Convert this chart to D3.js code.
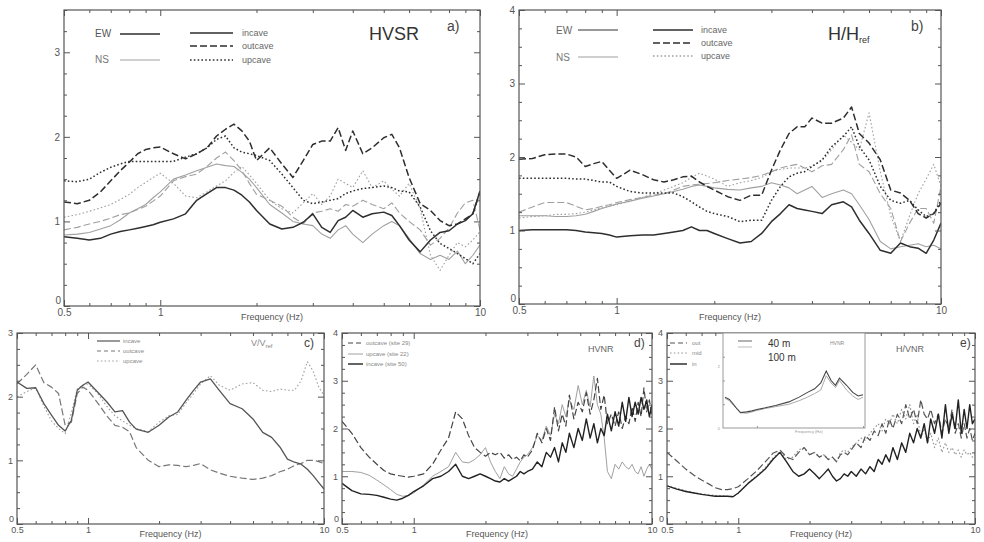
<!DOCTYPE html>
<html><head><meta charset="utf-8">
<script src="https://cdn.jsdelivr.net/npm/d3@7"></script>
<style>body{margin:0;background:#fff}svg{display:block}text{font-family:"Liberation Sans",Arial,sans-serif}</style>
</head><body><svg id="chart" width="984" height="542"></svg>
<script>
// ---------- DATA ----------
const freqAB = [0.5,0.55,0.6,0.65,0.7,0.75,0.8,0.85,0.9,0.95,1.0,1.1,1.2,1.3,1.4,1.5,1.6,1.7,1.8,1.9,2.0,2.2,2.4,2.6,2.8,3.0,3.2,3.4,3.6,3.8,4.0,4.3,4.6,5.0,5.3,5.6,6.0,6.5,7.0,7.5,8.0,8.5,9.0,9.5,10];
// panel a) HVSR
const aEWin  = [0.82,0.80,0.78,0.80,0.85,0.88,0.90,0.92,0.94,0.96,0.99,1.03,1.09,1.25,1.33,1.40,1.40,1.37,1.31,1.23,1.13,0.97,0.91,0.93,0.99,1.09,0.93,0.87,1.01,1.05,1.13,1.05,1.09,1.11,1.07,0.95,0.78,0.64,0.78,0.87,0.89,0.97,1.01,1.09,1.36];
const aEWout = [1.23,1.21,1.25,1.35,1.48,1.60,1.70,1.80,1.85,1.87,1.88,1.80,1.74,1.80,1.87,2.01,2.09,2.15,2.07,1.95,1.72,1.87,1.68,1.52,1.72,1.91,1.95,1.95,2.11,1.84,2.07,1.80,1.87,1.99,2.03,1.87,1.52,1.21,1.13,1.01,0.95,0.97,1.03,1.09,1.35];
const aEWup  = [1.48,1.47,1.50,1.58,1.64,1.68,1.71,1.71,1.71,1.71,1.71,1.71,1.76,1.80,1.87,1.97,2.01,1.87,1.82,1.80,1.78,1.72,1.56,1.40,1.25,1.21,1.23,1.25,1.27,1.33,1.36,1.39,1.40,1.42,1.40,1.36,1.35,1.17,0.89,0.74,0.68,0.62,0.56,0.50,0.62];
const aNSin  = [0.84,0.85,0.87,0.91,0.95,1.02,1.10,1.15,1.20,1.28,1.35,1.50,1.55,1.60,1.64,1.68,1.66,1.65,1.58,1.50,1.40,1.20,1.10,1.00,0.97,0.95,0.85,0.80,0.90,0.95,0.85,0.75,0.85,0.95,1.00,0.95,0.80,0.62,0.55,0.60,0.55,0.65,0.50,0.60,0.72];
const aNSout = [0.90,0.93,0.97,1.00,1.04,1.08,1.10,1.14,1.18,1.24,1.30,1.48,1.53,1.56,1.65,1.75,1.82,1.72,1.60,1.45,1.32,1.25,1.18,1.05,0.97,1.10,1.12,1.15,1.12,1.20,1.18,1.25,1.20,1.15,1.22,1.10,1.00,0.90,0.72,0.80,0.92,1.10,1.22,1.25,0.90];
const aNSup  = [1.05,1.08,1.12,1.16,1.20,1.26,1.32,1.40,1.46,1.52,1.57,1.45,1.30,1.28,1.35,1.42,1.48,1.58,1.65,1.55,1.45,1.25,1.15,1.10,1.22,1.33,1.20,1.30,1.50,1.45,1.40,1.60,1.40,1.48,1.38,1.30,1.45,1.15,0.60,0.42,0.60,0.75,0.70,0.78,0.88];
// panel b) H/Href
const bEWin  = [1.00,1.01,1.01,1.01,1.01,1.00,0.98,0.97,0.96,0.94,0.91,0.93,0.94,0.94,0.96,0.98,1.00,1.05,1.00,1.00,0.96,0.89,0.83,0.85,0.96,1.12,1.23,1.35,1.30,1.28,1.26,1.23,1.35,1.39,1.32,1.14,0.96,0.73,0.69,0.83,0.78,0.76,0.69,0.87,1.10];
const bEWout = [1.97,1.98,2.03,2.04,2.04,2.00,1.87,1.91,1.94,1.82,1.71,1.82,1.76,1.69,1.66,1.69,1.73,1.74,1.66,1.60,1.55,1.46,1.41,1.48,1.48,1.82,2.10,2.32,2.41,2.41,2.53,2.46,2.46,2.53,2.68,2.32,2.19,1.96,1.55,1.51,1.41,1.23,1.17,1.23,1.37];
const bEWup  = [1.71,1.71,1.71,1.71,1.71,1.70,1.70,1.68,1.66,1.66,1.60,1.53,1.51,1.51,1.51,1.51,1.46,1.39,1.32,1.26,1.23,1.19,1.12,1.14,1.14,1.41,1.60,1.73,1.78,1.80,1.87,1.96,2.14,2.28,2.41,2.14,1.96,1.60,1.41,1.37,1.41,1.28,1.19,1.23,1.41];
const bNSin  = [1.20,1.20,1.20,1.19,1.19,1.20,1.22,1.26,1.30,1.33,1.36,1.40,1.44,1.47,1.50,1.53,1.56,1.60,1.62,1.60,1.58,1.56,1.55,1.58,1.60,1.65,1.62,1.58,1.50,1.55,1.60,1.45,1.50,1.55,1.50,1.35,1.15,0.85,0.75,0.78,0.80,0.82,0.78,0.80,0.75];
const bNSout = [1.25,1.32,1.38,1.38,1.38,1.33,1.28,1.30,1.33,1.35,1.38,1.42,1.45,1.48,1.50,1.55,1.60,1.62,1.63,1.64,1.65,1.68,1.70,1.72,1.75,1.80,1.85,1.88,1.90,1.85,1.80,1.88,1.90,2.10,2.30,1.90,1.80,1.50,1.30,0.85,1.10,1.30,1.30,1.10,1.60];
const bNSup  = [1.17,1.19,1.20,1.22,1.22,1.23,1.25,1.28,1.31,1.33,1.35,1.40,1.45,1.50,1.55,1.60,1.65,1.72,1.78,1.74,1.70,1.60,1.65,1.68,1.72,1.80,1.83,1.85,1.85,1.85,1.88,1.95,2.10,2.30,2.20,2.10,2.60,1.80,1.20,0.85,1.20,1.50,1.70,1.90,1.60];
// panel c) V/Vref
const freqC = [0.5,0.55,0.6,0.65,0.7,0.75,0.8,0.85,0.9,0.95,1.0,1.1,1.2,1.3,1.4,1.5,1.6,1.8,2.0,2.2,2.4,2.6,2.8,3.0,3.3,3.6,4.0,4.5,5.0,5.5,6.0,6.5,7.0,7.5,8.0,8.5,9.0,9.5,10];
const cIn  = [2.23,2.13,2.14,1.89,1.71,1.55,1.46,1.63,2.10,2.18,2.23,2.07,1.92,1.76,1.78,1.60,1.49,1.44,1.55,1.68,1.76,1.94,2.10,2.23,2.28,2.10,1.89,1.81,1.65,1.44,1.36,1.21,1.02,0.97,0.94,0.86,0.76,0.65,0.55];
const cOut = [2.20,2.35,2.50,2.22,2.15,2.05,1.55,1.60,2.05,2.15,2.10,1.90,1.70,1.55,1.52,1.45,1.20,1.00,0.90,0.93,0.92,0.90,0.92,0.95,0.85,0.80,0.75,0.72,0.70,0.72,0.76,0.82,0.86,0.92,0.95,1.00,1.00,0.98,0.95];
const cUp  = [2.00,2.08,2.14,1.85,1.62,1.50,1.42,1.75,2.12,2.18,2.20,2.05,1.85,1.70,1.62,1.55,1.50,1.45,1.60,1.70,1.72,1.90,2.05,2.20,2.33,2.18,2.10,2.20,2.22,2.10,2.08,2.12,2.10,2.10,2.25,2.55,2.40,2.15,2.02];
// panels d) and e) HVNR
const freqDE = [0.5,0.55,0.6,0.65,0.7,0.75,0.8,0.85,0.9,0.95,1.0,1.1,1.2,1.3,1.4,1.5,1.6,1.7,1.8,1.9,2.0,2.1,2.2,2.3,2.4,2.5,2.6,2.7,2.8,2.9,3.0,3.15,3.3,3.45,3.6,3.75,3.9,4.05,4.2,4.35,4.5,4.7,4.9,5.1,5.3,5.5,5.7,5.9,6.1,6.3,6.5,6.75,7.0,7.25,7.5,7.75,8.0,8.25,8.5,8.75,9.0,9.25,9.5,9.75,10];
const dOut = [2.15,1.90,1.60,1.40,1.25,1.12,1.05,1.02,1.00,0.98, 1.00,1.05,1.25,1.55,1.80,2.35,2.20,1.85,1.60,1.50, 1.42,1.50,1.45,1.50,1.38,1.45,1.35,1.40,1.32,1.45, 1.40,1.55,1.90,1.70,2.00,1.75,2.45,1.95,2.30,2.05, 2.70,2.20,2.55,2.35,2.75,2.30,2.60,3.05,2.40,2.70, 2.10,2.30,2.05,2.35,2.00,2.25,2.10,2.45,2.15,2.55, 2.25,2.85,2.35,2.60,2.25];
const dUp  = [1.10,1.10,1.08,1.02,0.92,0.82,0.72,0.62,0.58,0.60, 0.65,0.82,1.00,1.10,1.20,1.50,1.30,1.28,1.35,1.45, 1.60,1.30,1.10,0.95,1.20,1.05,1.00,1.15,1.30,1.40, 1.45,1.60,1.85,1.75,2.05,1.85,2.30,2.10,2.50,2.25, 2.60,2.40,2.90,2.50,2.80,2.45,3.10,2.50,2.30,1.80, 1.10,0.95,1.25,1.15,1.30,1.20,1.15,1.25,1.10,1.05, 1.20,1.00,1.15,1.25,1.15];
const dIn  = [0.85,0.70,0.63,0.62,0.60,0.56,0.52,0.50,0.54,0.60, 0.68,0.80,0.95,1.00,1.10,1.25,1.00,0.95,1.00,1.05, 1.00,0.95,0.90,0.88,0.95,0.90,0.95,1.00,1.10,1.05, 1.10,1.15,1.30,1.20,1.50,1.40,1.60,1.30,1.70,1.50, 1.90,1.60,2.00,1.75,2.20,1.80,2.10,1.70,2.00,1.85, 2.30,1.95,2.35,2.05,2.55,2.15,2.65,2.25,2.55,2.30, 2.65,2.40,2.60,2.25,2.50];
const eOut = [1.50,1.32,1.15,1.02,0.92,0.84,0.76,0.72,0.72,0.74, 0.78,0.95,1.12,1.30,1.48,1.55,1.40,1.35,1.50,1.60, 1.45,1.50,1.40,1.45,1.35,1.40,1.30,1.45,1.50,1.45, 1.55,1.70,1.60,1.85,1.75,1.95,1.85,2.10,1.90,2.20, 2.00,2.30,2.10,2.50,2.20,2.40,2.10,2.60,2.30,2.20, 2.40,2.10,2.30,1.90,2.20,2.00,2.40,1.90,2.10,1.80, 2.10,1.80,2.00,1.75,1.90];
const eMid = [0.80,0.75,0.70,0.66,0.63,0.61,0.60,0.59,0.58,0.58, 0.64,0.85,1.02,1.18,1.38,1.52,1.35,1.40,1.55,1.60, 1.45,1.50,1.40,1.45,1.35,1.40,1.30,1.50,1.55,1.50, 1.60,1.70,1.80,1.75,1.90,2.00,2.10,1.95,2.20,2.10, 2.30,2.10,2.40,2.20,2.50,2.10,2.30,1.80,2.00,1.70, 1.90,1.60,1.80,1.50,1.70,1.50,1.60,1.45,1.55,1.40, 1.55,1.45,1.50,1.40,1.45];
const eIn  = [0.80,0.73,0.68,0.65,0.62,0.60,0.58,0.58,0.58,0.57, 0.65,0.85,1.00,1.15,1.35,1.50,1.30,1.10,1.00,1.05, 1.15,1.05,0.95,1.05,1.15,1.00,0.90,0.95,1.05,1.00, 1.10,1.00,1.15,1.05,1.20,1.10,1.35,1.25,1.45,1.30, 1.60,1.35,1.70,1.50,1.90,1.70,2.00,1.80,2.10,1.70, 2.20,1.90,2.30,1.80,2.50,1.90,2.30,2.00,2.60,1.90, 2.40,2.00,2.50,2.10,2.20];
// inset of e)
const insetFreq = [0.5,0.55,0.6,0.65,0.7,0.8,0.9,1.0,1.2,1.5,2.0,2.5,3.0,3.5,4.0,4.5,5.0,5.5,6.0,7.0,8.0,9.0,10];
const inset40  = [1.30,1.20,1.00,0.80,0.65,0.68,0.72,0.78,0.85,0.95,1.10,1.30,1.50,1.65,1.90,2.40,2.00,1.80,2.10,1.80,1.50,1.35,1.40];
const inset100 = [1.25,1.15,0.95,0.80,0.65,0.62,0.68,0.74,0.82,0.90,1.00,1.15,1.30,1.45,1.60,2.20,1.90,1.70,2.00,1.60,1.35,1.20,1.30];

const xMajor = [0.5,1,10];
const xMinor = [0.6,0.7,0.8,0.9,2,3,4,5,6,7,8,9];

// ---------- DRAW ----------
const svg = d3.select("#chart");
const DARK = "#2e2e2e", GREY = "#a0a0a0", FRAME = "#555";
const DASH = "7,3", DOT = "1.6,2.2";
let clipId = 0;

function panel(cfg){
  const x = d3.scaleLog().domain([0.5,10]).range([cfg.l, cfg.r]);
  const y = d3.scaleLinear().domain([0,cfg.ymax]).range([cfg.b, cfg.t]);
  const g = svg.append("g");
  const id = "clip" + (clipId++);
  svg.append("defs").append("clipPath").attr("id", id).append("rect")
    .attr("x", cfg.l).attr("y", cfg.t).attr("width", cfg.r-cfg.l).attr("height", cfg.b-cfg.t);
  const cg = g.append("g").attr("clip-path", `url(#${id})`);
  cfg.series.forEach(s=>{
    const line = d3.line().x((d,i)=>x(s.f[i])).y(d=>y(d));
    cg.append("path").attr("d", line(s.v)).attr("fill","none")
      .attr("stroke", s.c).attr("stroke-width", s.w)
      .attr("stroke-linejoin","round")
      .attr("stroke-dasharray", s.dash || null);
  });
  const yMajor = d3.range(0, Math.floor(cfg.ymax)+1);
  const yMinor = d3.range(0.25, cfg.ymax+0.001, 0.25).filter(v=>Math.abs(v-Math.round(v))>0.01);
  const styleAxis = (sel, showText) => {
    sel.select(".domain").remove();
    sel.selectAll("line").attr("stroke", FRAME);
    sel.selectAll("text").attr("fill","#555").style("font-size", cfg.fs+"px");
    if(!showText) sel.selectAll("text").remove();
  };
  g.append("g").attr("transform",`translate(0,${cfg.b})`)
    .call(d3.axisBottom(x).tickValues(xMajor).tickSize(-6).tickPadding(3).tickFormat(d=>d===0.5?"0.5":d3.format("d")(d)))
    .call(s=>styleAxis(s,true));
  g.append("g").attr("transform",`translate(0,${cfg.b})`)
    .call(d3.axisBottom(x).tickValues(xMinor).tickSize(-3).tickFormat(""))
    .call(s=>styleAxis(s,false));
  g.append("g").attr("transform",`translate(0,${cfg.t})`)
    .call(d3.axisTop(x).tickValues(xMajor).tickSize(-6).tickFormat(""))
    .call(s=>styleAxis(s,false));
  g.append("g").attr("transform",`translate(0,${cfg.t})`)
    .call(d3.axisTop(x).tickValues(xMinor).tickSize(-3).tickFormat(""))
    .call(s=>styleAxis(s,false));
  const yl = g.append("g").attr("transform",`translate(${cfg.l},0)`)
    .call(d3.axisLeft(y).tickValues(yMajor).tickSize(-6).tickPadding(4).tickFormat(d3.format("d")))
    .call(s=>styleAxis(s,true));
  // lift the "0" label so it sits just above the "0.5" x label
  yl.selectAll(".tick").filter(d=>d===0).select("text").attr("dy","-0.25em").attr("x",-3);
  g.append("g").attr("transform",`translate(${cfg.l},0)`)
    .call(d3.axisLeft(y).tickValues(yMinor).tickSize(-3).tickFormat(""))
    .call(s=>styleAxis(s,false));
  g.append("g").attr("transform",`translate(${cfg.r},0)`)
    .call(d3.axisRight(y).tickValues(yMajor).tickSize(-6).tickFormat(""))
    .call(s=>styleAxis(s,false));
  g.append("g").attr("transform",`translate(${cfg.r},0)`)
    .call(d3.axisRight(y).tickValues(yMinor).tickSize(-3).tickFormat(""))
    .call(s=>styleAxis(s,false));
  g.append("rect").attr("x",cfg.l).attr("y",cfg.t).attr("width",cfg.r-cfg.l).attr("height",cfg.b-cfg.t)
    .attr("fill","none").attr("stroke",FRAME).attr("stroke-width",1.2);
  g.append("text").attr("x",(cfg.l+cfg.r)/2).attr("y",cfg.titleY).attr("text-anchor","middle")
    .attr("fill","#555").style("font-size",cfg.tfs+"px").text("Frequency (Hz)");
  return {x,y,g};
}

function legendLine(g, x1, x2, yy, c, w, dash){
  g.append("line").attr("x1",x1).attr("x2",x2).attr("y1",yy).attr("y2",yy)
    .attr("stroke",c).attr("stroke-width",w).attr("stroke-dasharray",dash||null);
}
function label(g, x, yy, txt, size, fill, anchor){
  return g.append("text").attr("x",x).attr("y",yy).attr("fill",fill||"#555")
    .attr("text-anchor",anchor||"start").style("font-size",size+"px").text(txt);
}

// a)
const pa = panel({l:64,r:480,t:10,b:306,ymax:3.5,fs:10,tfs:9,titleY:320,series:[
  {f:freqAB,v:aNSin,c:GREY,w:1.1},
  {f:freqAB,v:aNSout,c:GREY,w:1.1,dash:DASH},
  {f:freqAB,v:aNSup,c:GREY,w:1.1,dash:DOT},
  {f:freqAB,v:aEWin,c:DARK,w:1.5},
  {f:freqAB,v:aEWout,c:DARK,w:1.5,dash:DASH},
  {f:freqAB,v:aEWup,c:DARK,w:1.5,dash:DOT}
]});
label(pa.g,95,37,"EW",10,"#555");
legendLine(pa.g,120,160,34,DARK,1.5);
label(pa.g,95,63,"NS",10,"#777");
legendLine(pa.g,120,160,60,GREY,1.1);
legendLine(pa.g,190,233,33,DARK,1.5);
legendLine(pa.g,190,233,46,DARK,1.5,DASH);
legendLine(pa.g,190,233,60,DARK,1.5,DOT);
label(pa.g,242,36,"incave",9,"#666");
label(pa.g,242,49,"outcave",9,"#666");
label(pa.g,242,63,"upcave",9,"#666");
label(pa.g,369,40,"HVSR",18,"#333");
label(pa.g,447,31,"a)",14,"#444");

// b)
const pb = panel({l:519,r:941,t:10,b:304,ymax:4,fs:10,tfs:9,titleY:320,series:[
  {f:freqAB,v:bNSin,c:GREY,w:1.1},
  {f:freqAB,v:bNSout,c:GREY,w:1.1,dash:DASH},
  {f:freqAB,v:bNSup,c:GREY,w:1.1,dash:DOT},
  {f:freqAB,v:bEWin,c:DARK,w:1.5},
  {f:freqAB,v:bEWout,c:DARK,w:1.5,dash:DASH},
  {f:freqAB,v:bEWup,c:DARK,w:1.5,dash:DOT}
]});
label(pb.g,556,34,"EW",10,"#666");
legendLine(pb.g,578,618,30,"#777",1.5);
label(pb.g,556,61,"NS",10,"#777");
legendLine(pb.g,578,618,57,GREY,1.1);
legendLine(pb.g,653,693,30,DARK,1.5);
legendLine(pb.g,653,693,43,DARK,1.5,DASH);
legendLine(pb.g,653,693,56,GREY,1.5,DOT);
label(pb.g,701,33,"incave",9,"#666");
label(pb.g,701,46,"outcave",9,"#666");
label(pb.g,701,59,"upcave",9,"#666");
const hh = label(pb.g,828,40,"H/H",18,"#333");
hh.append("tspan").attr("dy",3).style("font-size","9px").text("ref");
label(pb.g,911,31,"b)",14,"#444");

// c)
const pc = panel({l:17,r:324,t:333,b:524,ymax:3,fs:9,tfs:9,titleY:537,series:[
  {f:freqC,v:cUp,c:GREY,w:1.1,dash:DOT},
  {f:freqC,v:cOut,c:"#777",w:1.2,dash:DASH},
  {f:freqC,v:cIn,c:"#555",w:1.3}
]});
legendLine(pc.g,97,120,341,"#555",1.2);
legendLine(pc.g,97,120,351,"#777",1.2,"4,3");
legendLine(pc.g,97,120,361,GREY,1.1,DOT);
label(pc.g,123,343,"incave",6,"#888");
label(pc.g,123,353,"outcave",6,"#888");
label(pc.g,123,363,"upcave",6,"#888");
const vv = label(pc.g,251,346,"V/V",9,"#888");
vv.append("tspan").attr("dy",2).style("font-size","6px").text("ref");
label(pc.g,304,347,"c)",12,"#444");

// d)
const pd = panel({l:342,r:652,t:333,b:524,ymax:4,fs:9,tfs:9,titleY:537,series:[
  {f:freqDE,v:dUp,c:GREY,w:1.0},
  {f:freqDE,v:dOut,c:"#444",w:1.2,dash:DASH},
  {f:freqDE,v:dIn,c:"#222",w:1.4}
]});
legendLine(pd.g,348,363,343,"#444",1.2,"5,3");
legendLine(pd.g,348,363,354,GREY,1.0);
legendLine(pd.g,348,363,364,"#222",1.4);
label(pd.g,366,345,"outcave (site 29)",6,"#888");
label(pd.g,366,356,"upcave (site 22)",6,"#888");
label(pd.g,366,366,"incave (site 50)",6,"#888");
label(pd.g,588,352,"HVNR",9,"#666");
label(pd.g,634,347,"d)",12,"#444");

// e)
const pe = panel({l:667,r:975,t:333,b:524,ymax:4,fs:9,tfs:9,titleY:537,series:[
  {f:freqDE,v:eMid,c:"#999",w:1.2,dash:DOT},
  {f:freqDE,v:eOut,c:"#555",w:1.2,dash:DASH},
  {f:freqDE,v:eIn,c:"#222",w:1.4}
]});
legendLine(pe.g,670,687,343,"#555",1.2,"5,3");
legendLine(pe.g,670,687,353,"#999",1.2,DOT);
legendLine(pe.g,670,687,364,"#222",1.4);
label(pe.g,692,345,"out",6,"#888");
label(pe.g,692,355,"mid",6,"#888");
label(pe.g,692,366,"in",6,"#888");
label(pe.g,896,352,"H/VNR",9,"#666");
label(pe.g,960,347,"e)",12,"#444");

// inset inside e)
const ix = d3.scaleLog().domain([0.5,10]).range([725,863]);
const iy = d3.scaleLinear().domain([0,4]).range([428,333]);
const ig = svg.append("g");
ig.append("rect").attr("x",723).attr("y",333).attr("width",142).attr("height",95)
  .attr("fill","#fff").attr("stroke","#999").attr("stroke-width",1);
[[inset100,"#aaa",1.0],[inset40,"#444",1.1]].forEach(([v,c,w])=>{
  ig.append("path").attr("d", d3.line().x((d,i)=>ix(insetFreq[i])).y(d=>iy(d))(v))
    .attr("fill","none").attr("stroke",c).attr("stroke-width",w);
});
ig.append("g").attr("transform","translate(0,428)")
  .call(d3.axisBottom(ix).tickValues([1,10]).tickSize(-2).tickFormat(""))
  .call(s=>{s.select(".domain").remove();s.selectAll("line").attr("stroke","#999");});
ig.append("g").attr("transform","translate(723,0)")
  .call(d3.axisLeft(iy).tickValues([1,2,3]).tickSize(-2).tickFormat(""))
  .call(s=>{s.select(".domain").remove();s.selectAll("line").attr("stroke","#999");});
legendLine(ig,738,752,341,"#666",1.0);
legendLine(ig,738,752,347,"#bbb",1.0);
label(ig,768,347,"40 m",10,"#333");
label(ig,768,361,"100 m",10,"#333");
label(ig,830,345,"HVNR",5,"#888");
label(ig,795,433,"Frequency (Hz)",4,"#999");
label(ig,720,430,"0",4,"#999","end");
label(ig,720,368,"2",4,"#999","end");
</script></body></html>
